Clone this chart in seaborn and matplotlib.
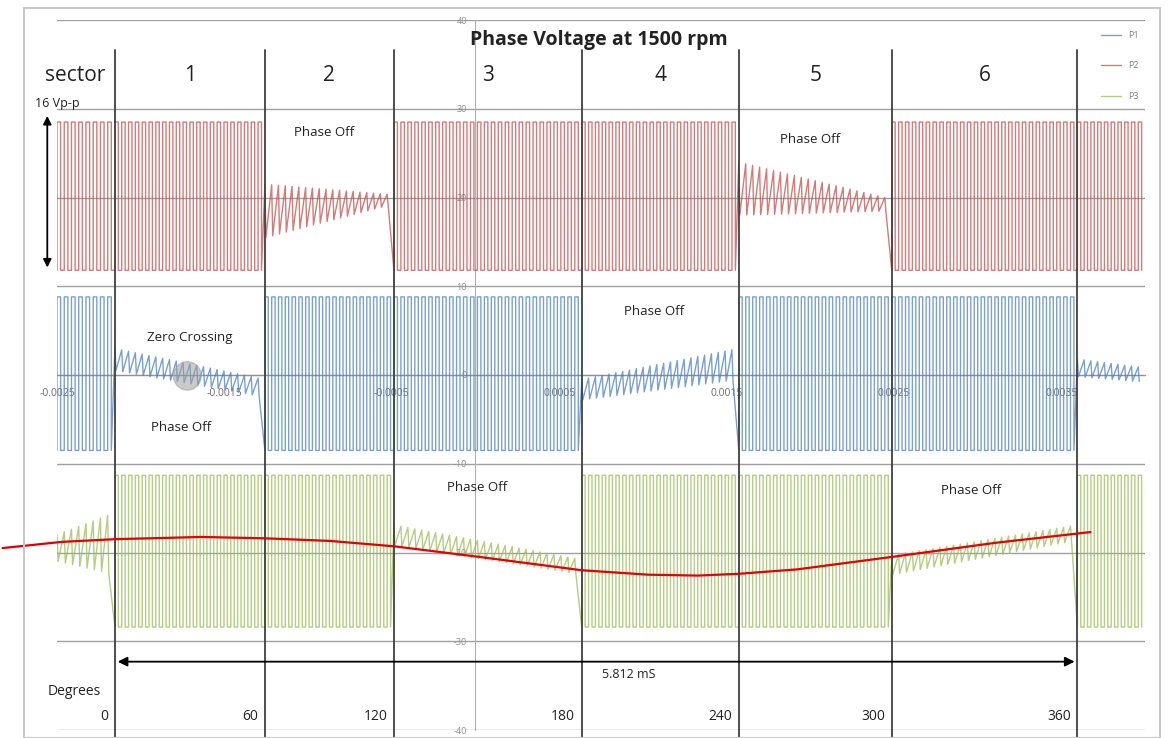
import numpy as np
import seaborn as sns
import matplotlib.pyplot as plt
from matplotlib.patches import Ellipse, Rectangle

# sector boundaries (seconds) and their angle labels
sector_edges = [-0.002154, -0.001258, -0.000487, 0.000635, 0.001573, 0.002487, 0.003596]
degree_labels = ["0", "60", "120", "180", "240", "300", "360"]
sector_names = ["1", "2", "3", "4", "5", "6"]
x_tick_vals = [-0.0025, -0.0015, -0.0005, 0.0005, 0.0015, 0.0025, 0.0035]
x_tick_labels = ["-0.0025", "-0.0015", "-0.0005", "0.0005", "0.0015", "0.0025", "0.0035"]
y_tick_vals = [-40, -30, -20, -10, 0, 10, 20, 30, 40]

# phase state per interval (before sector 1, sectors 1..6, after sector 6)
p1_state = ["pwm", "off", "pwm", "pwm", "off", "pwm", "pwm", "off"]
p2_state = ["pwm", "pwm", "off", "pwm", "pwm", "off", "pwm", "pwm"]
p3_state = ["off", "pwm", "pwm", "off", "pwm", "pwm", "off", "pwm"]

# pwm levels (V): high, low
p1_levels = (8.8, -8.5)
p2_levels = (28.5, 11.8)
p3_levels = (-11.3, -28.4)

# floating phase envelope: upper start, upper end, lower start, lower end
p1_float = {1: (3.0, -0.5, 0.5, -2.5), 4: (-0.5, 3.0, -2.8, -0.5), 7: (1.8, 0.8, -0.2, -0.8)}
p2_float = {2: (21.5, 20.3, 15.5, 19.3), 5: (24.0, 19.8, 18.0, 18.5)}
p3_float = {0: (-18.0, -15.5, -21.0, -22.5), 3: (-16.9, -20.8, -19.2, -22.5), 6: (-20.3, -16.9, -22.5, -18.6)}

pwm_period = 4.1e-5

# hand-drawn red guide curve (time s, volts)
guide_t = [-0.002825, -0.002469, -0.002154, -0.001638, -0.001258, -0.000866, -0.000487,
           0.000024, 0.000635, 0.001033, 0.001329, 0.001573, 0.001923, 0.002487, 0.003110, 0.003674]
guide_v = [-19.5, -18.8, -18.5, -18.25, -18.4, -18.7, -19.3,
           -20.5, -22.0, -22.5, -22.6, -22.4, -21.9, -20.5, -18.9, -17.7]


def build_trace(states, levels, floating):
    bounds = [-0.0025] + sector_edges + [0.004]
    xs, ys = [], []
    for i, state in enumerate(states):
        t_a, t_b = bounds[i], bounds[i + 1]
        n = max(1, int(round((t_b - t_a) / pwm_period)))
        p = (t_b - t_a) / n
        starts = t_a + p * np.arange(n)
        if state == "pwm":
            hi, lo = levels
            xs.append(np.column_stack([starts, starts, starts + p / 2, starts + p / 2]).ravel())
            ys.append(np.tile([lo, hi, hi, lo], n))
        else:
            u0, u1, l0, l1 = floating[i]
            frac = np.arange(n) / n
            up = u0 + (u1 - u0) * frac
            low = l0 + (l1 - l0) * frac
            xs.append(np.column_stack([starts, starts + 0.15 * p]).ravel())
            ys.append(np.column_stack([up, low]).ravel())
    return np.concatenate(xs), np.concatenate(ys)


sns.set_theme(style="white")
plt.rcParams['font.family'] = ['Open Sans', 'DejaVu Sans']

fig = plt.figure(figsize=(11.68, 7.38), dpi=100)
ax = fig.add_axes([57 / 1168, 8 / 738, 1088 / 1168, 710 / 738])

colors = {"P1": "#4F81BD", "P2": "#C0504D", "P3": "#9BBB59"}
for name, st, lv, fl in [("P1", p1_state, p1_levels, p1_float),
                         ("P2", p2_state, p2_levels, p2_float),
                         ("P3", p3_state, p3_levels, p3_float)]:
    tx, ty = build_trace(st, lv, fl)
    sns.lineplot(x=tx, y=ty, ax=ax, estimator=None, sort=False, color=colors[name],
                 lw=1.0, alpha=0.75, label=name, zorder=3)

ax.set_xlim(-0.0025, 0.004)
ax.set_ylim(-40, 40)

# axes crossing at zero, excel style
for s in ["top", "right"]:
    ax.spines[s].set_visible(False)
ax.spines['left'].set_position(('data', 0))
ax.spines['bottom'].set_position(('data', 0))
ax.spines['left'].set_color('#b0b0b0')
ax.spines['bottom'].set_color('#909090')
ax.spines['left'].set_linewidth(0.8)
ax.spines['bottom'].set_linewidth(0.8)
ax.set_xticks(x_tick_vals)
ax.set_xticklabels(x_tick_labels)
ax.set_yticks(y_tick_vals)
ax.set_yticklabels([str(v) for v in y_tick_vals])
ax.tick_params(axis='x', length=0, pad=9, labelsize=7.5, colors='#707070')
ax.tick_params(axis='y', length=0, pad=6, labelsize=6.5, colors='#909090')
ax.yaxis.grid(True, color='#a0a0a0', lw=1.0)
ax.set_xlabel('')
ax.set_ylabel('')

# sector boundary lines
for e in sector_edges:
    ax.plot([e, e], [36.6, -41.5], color='#404040', lw=1.3, zorder=4, clip_on=False)

# texts
ax.text(0.000736, 37.7, "Phase Voltage at 1500 rpm", ha='center', va='center',
        fontsize=14, fontweight='bold', color='#222222')
ax.text(-0.002392, 33.8, "sector", ha='center', va='center', fontsize=15, color='#222222')
for i, nm in enumerate(sector_names):
    mid = (sector_edges[i] + sector_edges[i + 1]) / 2
    ax.text(mid, 33.8, nm, ha='center', va='center', fontsize=15, color='#222222')
for e, lab in zip(sector_edges, degree_labels):
    ax.text(e - 0.00004, -38.5, lab, ha='right', va='center', fontsize=10, color='#222222')
ax.text(-0.002398, -35.7, "Degrees", ha='center', va='center', fontsize=10, color='#222222')

off_pos = [(-0.000902, 27.3), (0.002000, 26.5), (-0.001757, -5.9), (0.001068, 7.1),
           (0.0000119, -12.7), (0.002961, -13.0)]
for px, py in off_pos:
    ax.text(px, py, "Phase Off", ha='center', va='center', fontsize=9.5, color='#222222', zorder=5)
ax.text(-0.001709, 4.2, "Zero Crossing", ha='center', va='center', fontsize=9.5, color='#222222')
ax.add_patch(Ellipse((-0.001721, -0.1), 0.000166, 3.2, color='#a0a0a0', alpha=0.55, zorder=4))

# time span arrow
ax.annotate("", xy=(sector_edges[0], -32.3), xytext=(sector_edges[-1], -32.3),
            arrowprops=dict(arrowstyle='<|-|>', color='black', lw=1.3, mutation_scale=14), zorder=5)
ax.text(0.000914, -33.8, "5.812 mS", ha='center', va='center', fontsize=9, color='#222222')

# 16 Vp-p arrow
ax.annotate("", xy=(-0.002558, 29.5), xytext=(-0.002558, 11.8),
            arrowprops=dict(arrowstyle='<|-|>', color='black', lw=1.3, mutation_scale=12),
            annotation_clip=False)
ax.text(-0.002629, 30.6, "16 Vp-p", ha='left', va='center', fontsize=9, color='#222222', clip_on=False)

# guide curve
ax.plot(guide_t, guide_v, color='#e00000', lw=1.6, zorder=6, clip_on=False)

leg = ax.legend(loc='upper right', bbox_to_anchor=(0.998, 0.99), frameon=False, fontsize=6.5,
                labelspacing=2.4, handlelength=2.3, borderaxespad=0)
for t in leg.get_texts():
    t.set_color('#808080')

fig.patches.append(Rectangle((24 / 1168, 0), 1136 / 1168, 730 / 738, transform=fig.transFigure,
                             fill=False, edgecolor='#c8c8c8', lw=1.5))

fig.savefig('out.png', dpi=100)
